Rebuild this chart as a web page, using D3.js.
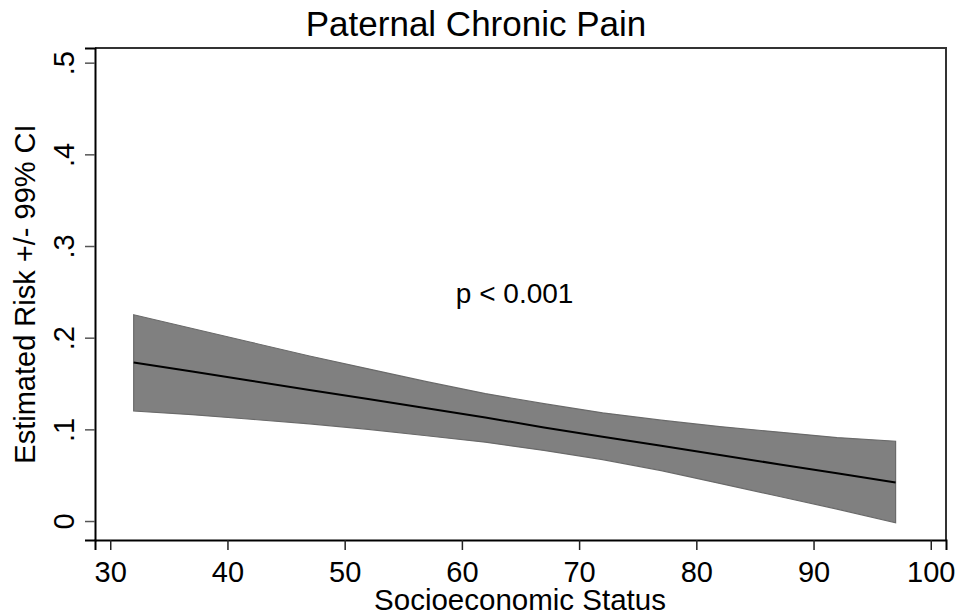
<!DOCTYPE html>
<html>
<head>
<meta charset="utf-8">
<script src="https://cdn.jsdelivr.net/npm/d3@7"></script>
<style>
  html, body { margin: 0; padding: 0; background: #fff; }
  svg { display: block; font-family: "Liberation Sans", Arial, sans-serif; }
</style>
</head>
<body>
<svg id="chart" width="958" height="616"></svg>
<script>
// ---- data ----
const ses      = [32, 37, 42, 47, 52, 57, 62, 67, 72, 77, 82, 87, 92, 97];
const estimate = [0.173, 0.163, 0.153, 0.143, 0.133, 0.123, 0.113, 0.102, 0.092, 0.082, 0.072, 0.062, 0.052, 0.042];
const upper    = [0.225, 0.210, 0.195, 0.180, 0.166, 0.152, 0.139, 0.128, 0.118, 0.110, 0.103, 0.097, 0.091, 0.087];
const lower    = [0.120, 0.116, 0.111, 0.106, 0.100, 0.093, 0.086, 0.077, 0.067, 0.055, 0.041, 0.027, 0.013, -0.002];
const xTicks   = [30, 40, 50, 60, 70, 80, 90, 100];
const yTicks   = [0, 0.1, 0.2, 0.3, 0.4, 0.5];
const yTickLabels = ["0", ".1", ".2", ".3", ".4", ".5"];
const titleText = "Paternal Chronic Pain";
const xTitle = "Socioeconomic Status";
const yTitle = "Estimated Risk +/- 99% CI";
const note = { x: 64.5, y: 0.238, text: "p < 0.001" };

const rows = ses.map((s, i) => ({ x: s, est: estimate[i], hi: upper[i], lo: lower[i] }));

// ---- layout ----
const svg = d3.select("#chart");
const L = 95, R = 946, T = 48, B = 540;

const x = d3.scaleLinear().domain([28.7, 101.3]).range([L, R]);
const y = d3.scaleLinear().domain([-0.0207, 0.516]).range([B, T]);

// band
svg.append("path")
  .datum(rows)
  .attr("d", d3.area().x(d => x(d.x)).y0(d => y(d.lo)).y1(d => y(d.hi)))
  .attr("fill", "#808080")
  .attr("stroke", "#6a6a6a")
  .attr("stroke-width", 1.2);

// estimate line
svg.append("path")
  .datum(rows)
  .attr("d", d3.line().x(d => x(d.x)).y(d => y(d.est)))
  .attr("fill", "none")
  .attr("stroke", "#000")
  .attr("stroke-width", 2);

// plot region outline (top / right)
svg.append("path")
  .attr("d", `M${L},${T}H${R}V${B}`)
  .attr("fill", "none")
  .attr("stroke", "#333")
  .attr("stroke-width", 2);

// x axis
const xAxis = svg.append("g")
  .attr("transform", `translate(0,${B})`)
  .call(d3.axisBottom(x).tickValues(xTicks).tickSize(10).tickPadding(11).tickFormat(d3.format("d")));
xAxis.select(".domain").attr("stroke", "#000").attr("stroke-width", 2);
xAxis.selectAll(".tick line").attr("stroke", "#222").attr("stroke-width", 1.5);
xAxis.selectAll(".tick text")
  .attr("font-size", 29).attr("fill", "#000")
  .attr("font-family", "Liberation Sans, Arial, sans-serif");

// y axis
const yAxis = svg.append("g")
  .attr("transform", `translate(${L},0)`)
  .call(d3.axisLeft(y).tickValues(yTicks).tickSize(10).tickFormat((d, i) => yTickLabels[i]));
yAxis.select(".domain").attr("stroke", "#000").attr("stroke-width", 2);
yAxis.selectAll(".tick line").attr("stroke", "#555").attr("stroke-width", 1.5);
yAxis.selectAll(".tick text")
  .attr("font-size", 29).attr("fill", "#000")
  .attr("font-family", "Liberation Sans, Arial, sans-serif")
  .attr("x", null).attr("dy", null)
  .attr("text-anchor", "middle")
  .attr("transform", "translate(-21,0) rotate(-90)");

// title
svg.append("text")
  .attr("x", 476).attr("y", 36)
  .attr("text-anchor", "middle")
  .attr("font-size", 35)
  .attr("fill", "#000")
  .text(titleText);

// x title
svg.append("text")
  .attr("x", 520).attr("y", 610)
  .attr("text-anchor", "middle")
  .attr("font-size", 29.5)
  .attr("fill", "#000")
  .text(xTitle);

// y title
svg.append("text")
  .attr("transform", `translate(35,${(T + B) / 2}) rotate(-90)`)
  .attr("text-anchor", "middle")
  .attr("font-size", 29)
  .attr("fill", "#000")
  .text(yTitle);

// annotation
svg.append("text")
  .attr("x", x(note.x)).attr("y", y(note.y))
  .attr("text-anchor", "middle")
  .attr("font-size", 28)
  .attr("fill", "#000")
  .text(note.text);
</script>
</body>
</html>
